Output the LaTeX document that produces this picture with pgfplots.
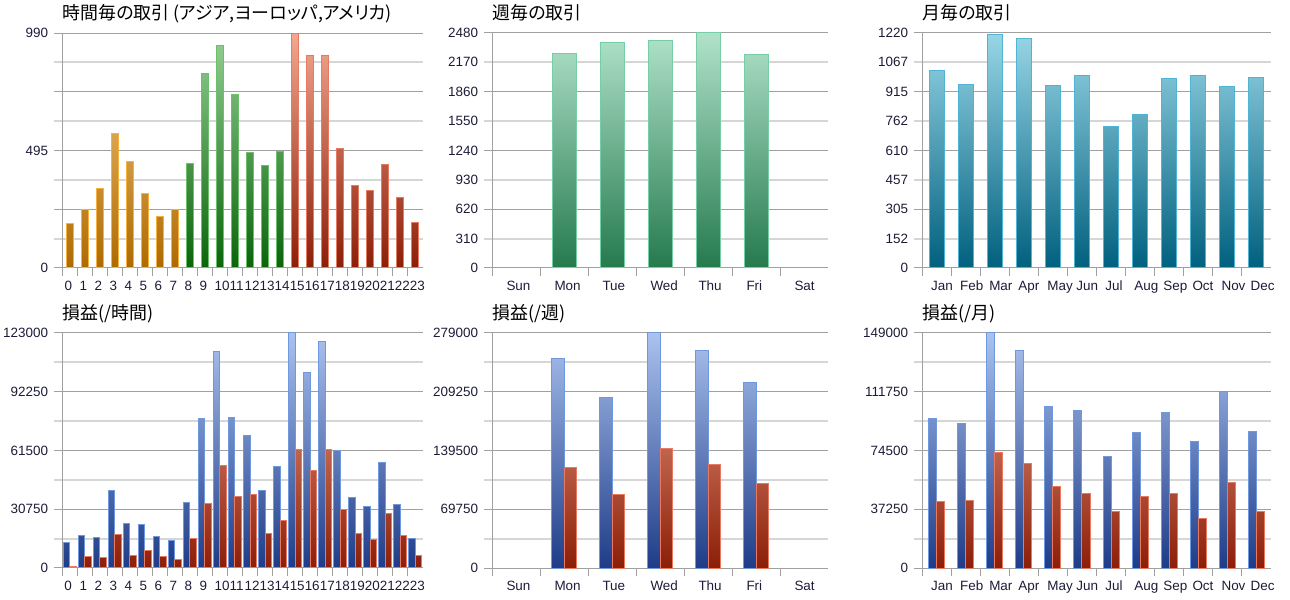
\documentclass[border=0pt]{standalone}
\usepackage{pgfplots}
\pgfplotsset{compat=1.18}
\usepackage{fontspec}
\setmainfont{Liberation Sans}
\newfontfamily\cjk[RawFeature=+palt]{Noto Sans CJK JP}
\definecolor{gridd}{HTML}{A0A0A0}
\definecolor{gridl}{HTML}{D6D6D6}
\definecolor{lab}{HTML}{1C1C38}
\definecolor{orT}{HTML}{FBD08A}\definecolor{orB}{HTML}{AD6A00}\definecolor{orE}{HTML}{F8B040}
\definecolor{grT}{HTML}{96D096}\definecolor{grB}{HTML}{0A650A}\definecolor{grE}{HTML}{6CC06C}
\definecolor{rdT}{HTML}{F2A890}\definecolor{rdB}{HTML}{8C1E08}\definecolor{rdE}{HTML}{E87A62}
\definecolor{tlT}{HTML}{B0E2CA}\definecolor{tlB}{HTML}{257A4E}\definecolor{tlE}{HTML}{74D0A4}
\definecolor{cyT}{HTML}{98D6E6}\definecolor{cyB}{HTML}{00607E}\definecolor{cyE}{HTML}{50B4D4}
\definecolor{blT}{HTML}{AAC2EE}\definecolor{blB}{HTML}{1E3C88}\definecolor{blE}{HTML}{7098E0}
\pgfdeclareverticalshading{shor}{100bp}{color(0bp)=(orB); color(25bp)=(orB); color(75bp)=(orT); color(100bp)=(orT)}
\pgfdeclareverticalshading{shgr}{100bp}{color(0bp)=(grB); color(25bp)=(grB); color(75bp)=(grT); color(100bp)=(grT)}
\pgfdeclareverticalshading{shrd}{100bp}{color(0bp)=(rdB); color(25bp)=(rdB); color(75bp)=(rdT); color(100bp)=(rdT)}
\pgfdeclareverticalshading{shtl}{100bp}{color(0bp)=(tlB); color(25bp)=(tlB); color(75bp)=(tlT); color(100bp)=(tlT)}
\pgfdeclareverticalshading{shcy}{100bp}{color(0bp)=(cyB); color(25bp)=(cyB); color(75bp)=(cyT); color(100bp)=(cyT)}
\pgfdeclareverticalshading{shbl}{100bp}{color(0bp)=(blB); color(25bp)=(blB); color(75bp)=(blT); color(100bp)=(blT)}
\pgfplotsset{
  panel/.style={
    scale only axis, height=235bp, ymin=0, clip=false,
    axis lines=left, axis line style={draw=gridd, line width=1bp, -},
    tick align=outside, major tick length=8bp, minor tick length=8bp,
    major tick style={draw=gridd, line width=1bp},
    minor tick style={draw=gridl, line width=2bp},
    ymajorgrids, yminorgrids,
    major grid style={draw=gridd, line width=1bp},
    minor grid style={draw=gridl, line width=2bp},
    scaled y ticks=false,
    ticklabel style={font=\fontsize{13.5}{16}\selectfont, text=lab, inner sep=0pt},
    yticklabel style={anchor=east, xshift=-6bp},
    xticklabel style={anchor=north west, yshift=-5bp},
    title style={at={(0,1)}, anchor=base west, yshift=7.5bp, inner sep=0pt,
      font=\cjk\fontsize{18}{22}\selectfont, text=black},
  },
  gbar/.style 2 args={ybar, draw=#2, line width=1bp,
    path picture={\pgfpathrectanglecorners{\pgfplotspointrelaxisxy{0}{0}}{\pgfplotspointrelaxisxy{1}{1}}\pgfshadepath{#1}{0}\pgfusepath{discard}}},
}
\begin{document}
\begin{tikzpicture}
\useasboundingbox (0,0) rectangle (1290bp,600bp);
% ---------- hourly trades
\begin{axis}[panel, at={(62.3bp,332bp)}, anchor=south west, width=360.4bp,
  xmin=-0.5, xmax=23.5, ymax=990,
  xtick={-0.5,0.5,...,22.5},
  xticklabels={0,1,2,3,4,5,6,7,8,9,10,11,12,13,14,15,16,17,18,19,20,21,22,23},
  xticklabel style={xshift=2bp},
  ytick={0,247.5,495,742.5,990}, yticklabels={0,,495,,990},
  minor ytick={123.75,371.25,618.75,866.25},
  title={時間毎の取引 (アジア,ヨーロッパ,アメリカ)}]
\addplot[gbar={shor}{orE}, bar width=0.5, bar shift=0] coordinates
 {(0,189)(1,245)(2,335)(3,567)(4,449)(5,315)(6,218)(7,246)};
\addplot[gbar={shgr}{grE}, bar width=0.5, bar shift=0] coordinates
 {(8,441)(9,819)(10,937)(11,730)(12,486)(13,431)(14,491)};
\addplot[gbar={shrd}{rdE}, bar width=0.5, bar shift=0] coordinates
 {(15,990)(16,896)(17,895)(18,505)(19,347)(20,326)(21,434)(22,298)(23,192)};
\end{axis}
% ---------- hourly profit
\begin{axis}[panel, at={(62.3bp,32bp)}, anchor=south west, width=360.4bp,
  xmin=-0.5, xmax=23.5, ymax=123000,
  xtick={-0.5,0.5,...,22.5},
  xticklabels={0,1,2,3,4,5,6,7,8,9,10,11,12,13,14,15,16,17,18,19,20,21,22,23},
  xticklabel style={xshift=2bp},
  ytick={0,30750,61500,92250,123000}, yticklabels={0,30750,61500,92250,123000},
  minor ytick={15375,46125,76875,107625},
  title={損益(/時間)}]
\addplot[gbar={shbl}{blE}, bar width=0.45, bar shift=-0.225] coordinates
 {(0,13570)(1,16880)(2,16010)(3,40710)(4,23490)(5,22970)(6,16700)(7,14270)
  (8,34100)(9,78470)(10,113090)(11,78820)(12,69420)(13,40710)(14,53240)(15,123000)
  (16,102130)(17,118310)(18,61240)(19,36890)(20,32360)(21,55330)(22,33230)(23,15310)};
\addplot[gbar={shrd}{rdE}, bar width=0.45, bar shift=0.225] coordinates
 {(0,1040)(1,6260)(2,5390)(3,17570)(4,6790)(5,9220)(6,6260)(7,4700)
  (8,15490)(9,33750)(10,53760)(11,37580)(12,38280)(13,17920)(14,24710)(15,62110)
  (16,51150)(17,61940)(18,30450)(19,18090)(20,14960)(21,28710)(22,16880)(23,6790)};
\end{axis}
% ---------- weekly trades
\begin{axis}[panel, at={(492.3bp,332bp)}, anchor=south west, width=336bp,
  xmin=-0.5, xmax=6.5, ymax=2480,
  xtick={-0.5,0.5,...,5.5}, xticklabels={Sun,Mon,Tue,Wed,Thu,Fri,Sat},
  xticklabel style={xshift=14bp},
  ytick={0,620,1240,1860,2480}, yticklabels={0,620,1240,1860,2480},
  minor ytick={310,930,1550,2170},
  extra y ticks={310,930,1550,2170}, extra y tick labels={310,930,1550,2170},
  extra y tick style={grid=none, major tick style={draw=none}},
  title={週毎の取引}]
\addplot[gbar={shtl}{tlE}, bar width=0.5, bar shift=0] coordinates
 {(1,2263)(2,2378)(3,2403)(4,2480)(5,2252)};
\end{axis}
% ---------- weekly profit
\begin{axis}[panel, at={(492.3bp,32bp)}, anchor=south west, width=336bp,
  xmin=-0.5, xmax=6.5, ymax=279000,
  xtick={-0.5,0.5,...,5.5}, xticklabels={Sun,Mon,Tue,Wed,Thu,Fri,Sat},
  xticklabel style={xshift=14bp},
  ytick={0,69750,139500,209250,279000}, yticklabels={0,69750,139500,209250,279000},
  minor ytick={34875,104625,174375,244125},
  title={損益(/週)}]
\addplot[gbar={shbl}{blE}, bar width=0.256, bar shift=-0.132] coordinates
 {(1,249000)(2,202000)(3,279000)(4,258100)(5,220200)};
\addplot[gbar={shrd}{rdE}, bar width=0.256, bar shift=0.132] coordinates
 {(1,118800)(2,87600)(3,141700)(4,122700)(5,99800)};
\end{axis}
% ---------- monthly trades
\begin{axis}[panel, at={(922.3bp,332bp)}, anchor=south west, width=348.4bp,
  xmin=-0.5, xmax=11.5, ymax=1220,
  xtick={-0.5,0.5,...,10.5},
  xticklabels={Jan,Feb,Mar,Apr,May,Jun,Jul,Aug,Sep,Oct,Nov,Dec},
  xticklabel style={xshift=8.7bp},
  ytick={0,305,610,915,1220}, yticklabels={0,305,610,915,1220},
  minor ytick={152.5,457.5,762.5,1067.5},
  extra y ticks={152.5,457.5,762.5,1067.5}, extra y tick labels={152,457,762,1067},
  extra y tick style={grid=none, major tick style={draw=none}},
  title={月毎の取引}]
\addplot[gbar={shcy}{cyE}, bar width=0.5, bar shift=0] coordinates
 {(0,1025)(1,953)(2,1213)(3,1192)(4,949)(5,1001)(6,735)(7,796)(8,984)(9,999)(10,940)(11,989)};
\end{axis}
% ---------- monthly profit
\begin{axis}[panel, at={(922.3bp,32bp)}, anchor=south west, width=348.4bp,
  xmin=-0.5, xmax=11.5, ymax=149000,
  xtick={-0.5,0.5,...,10.5},
  xticklabels={Jan,Feb,Mar,Apr,May,Jun,Jul,Aug,Sep,Oct,Nov,Dec},
  xticklabel style={xshift=8.7bp},
  ytick={0,37250,74500,111750,149000}, yticklabels={0,37250,74500,111750,149000},
  minor ytick={18625,55875,93125,130375},
  title={損益(/月)}]
\addplot[gbar={shbl}{blE}, bar width=0.276, bar shift=-0.138] coordinates
 {(0,94600)(1,91500)(2,149000)(3,137600)(4,102600)(5,100100)(6,70800)(7,86200)(8,98600)(9,80500)(10,112100)(11,86800)};
\addplot[gbar={shrd}{rdE}, bar width=0.276, bar shift=0.138] coordinates
 {(0,41900)(1,42800)(2,73100)(3,66000)(4,51400)(5,47200)(6,35800)(7,45100)(8,47000)(9,31200)(10,54000)(11,36000)};
\end{axis}
\end{tikzpicture}
\end{document}
